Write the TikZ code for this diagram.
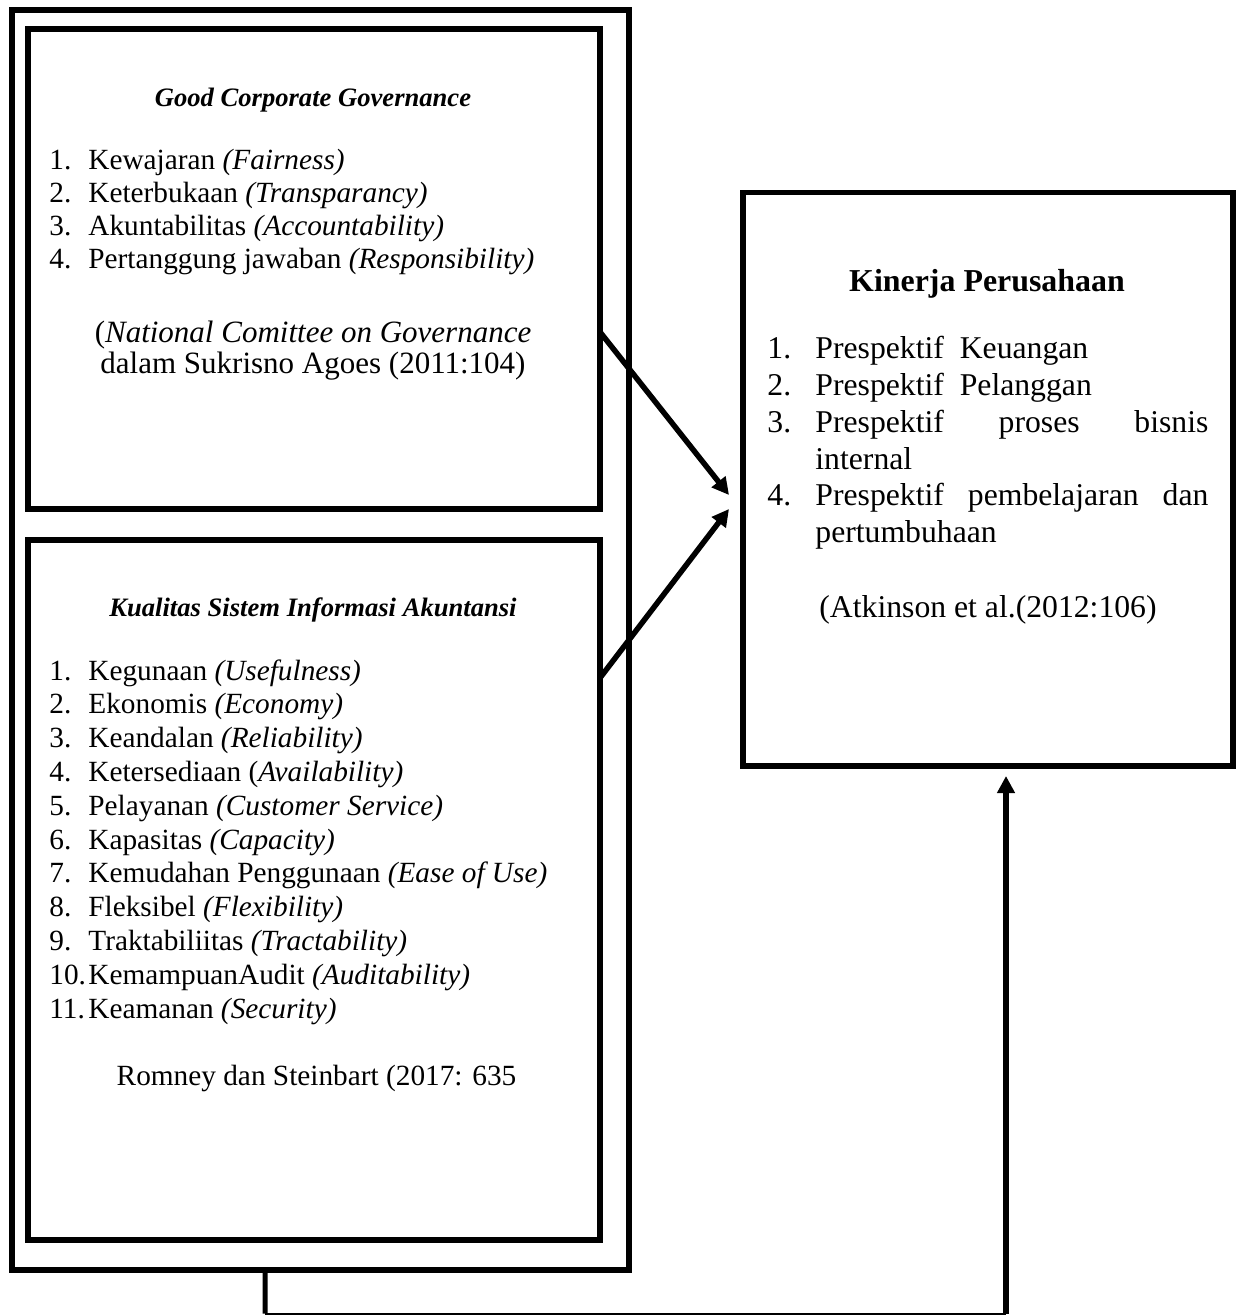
\documentclass[tikz,border=0pt]{standalone}
\usepackage{fontspec}
\setmainfont{Liberation Serif}
\usetikzlibrary{arrows.meta,calc}
\begin{document}
\begin{tikzpicture}[x=0.5pt,y=-0.5pt,
  box/.style={draw, line width=3pt, inner sep=0pt, outer sep=0pt, anchor=north west},
  ttl/.style={anchor=base, inner sep=0pt, font=\fontsize{13.3pt}{15pt}\selectfont\bfseries\itshape},
  li/.style={anchor=base west, inner sep=0pt, font=\fontsize{14.65pt}{16pt}\selectfont},
  cit/.style={anchor=base, inner sep=0pt, font=\fontsize{15.5pt}{17pt}\selectfont},
  kli/.style={anchor=base west, inner sep=0pt, font=\fontsize{15.85pt}{18pt}\selectfont},
  ktl/.style={anchor=base, inner sep=0pt, font=\fontsize{15.95pt}{18pt}\selectfont\bfseries},
  arr/.style={line width=2.75pt, -{Triangle[length=8.5pt,width=8.5pt]}}
]
\useasboundingbox (0,0) rectangle (1241,1315);

% boxes
\node[box, minimum width=308.25pt, minimum height=630pt] (outer) at (12,10) {};
\node[box, minimum width=286pt, minimum height=240pt] (gcg) at (28,29) {};
\node[box, minimum width=286pt, minimum height=350pt] (sia) at (28,540) {};
\node[box, line width=2.75pt, minimum width=245pt, minimum height=286.75pt] (kin) at (743,192.5) {};

% GCG text
\node[ttl] (gt) at (313,107) {Good Corporate Governance};
\node[li] (gn1) at (49,170) {1.};
\node[li] (g1) at (88,170) {Kewajaran \textit{(Fairness)}};
\node[li] (gn2) at (49,203) {2.};
\node[li] (g2) at (88,203) {Keterbukaan \textit{(Transparancy)}};
\node[li] (gn3) at (49,236) {3.};
\node[li] (g3) at (88,236) {Akuntabilitas \textit{(Accountability)}};
\node[li] (gn4) at (49,269) {4.};
\node[li] (g4) at (88,269) {Pertanggung jawaban \textit{(Responsibility)}};
\node[cit] (gc1) at (313,343) {(\textit{National Comittee on Governance}};
\node[cit] (gc2) at (313,374) {dalam Sukrisno Agoes (2011:104)};

% SIA text
\node[ttl] (st) at (313,616) {Kualitas Sistem Informasi Akuntansi};
\node[li] (sn1) at (49,680) {1.};
\node[li] (s1) at (88,680) {Kegunaan \textit{(Usefulness)}};
\node[li] (sn2) at (49,713.8) {2.};
\node[li] (s2) at (88,713.8) {Ekonomis \textit{(Economy)}};
\node[li] (sn3) at (49,747.6) {3.};
\node[li] (s3) at (88,747.6) {Keandalan \textit{(Reliability)}};
\node[li] (sn4) at (49,781.4) {4.};
\node[li] (s4) at (88,781.4) {Ketersediaan (\textit{Availability)}};
\node[li] (sn5) at (49,815.2) {5.};
\node[li] (s5) at (88,815.2) {Pelayanan \textit{(Customer Service)}};
\node[li] (sn6) at (49,849) {6.};
\node[li] (s6) at (88,849) {Kapasitas \textit{(Capacity)}};
\node[li] (sn7) at (49,882.8) {7.};
\node[li] (s7) at (88,882.8) {Kemudahan Penggunaan \textit{(Ease of Use)}};
\node[li] (sn8) at (49,916.6) {8.};
\node[li] (s8) at (88,916.6) {Fleksibel \textit{(Flexibility)}};
\node[li] (sn9) at (49,950.4) {9.};
\node[li] (s9) at (88,950.4) {Traktabiliitas \textit{(Tractability)}};
\node[li] (sn10) at (49,984.2) {10.};
\node[li] (s10) at (88,984.2) {KemampuanAudit \textit{(Auditability)}};
\node[li] (sn11) at (49,1018) {11.};
\node[li] (s11) at (88,1018) {Keamanan \textit{(Security)}};
\node[li, anchor=base] (sr) at (316.5,1085) {Romney dan Steinbart (2017: 635};

% Kinerja text
\node[ktl] (kt) at (987,292) {Kinerja Perusahaan};
\node[kli] (kn1) at (767,358.6) {1.};
\node[kli] (k1) at (815,358.6) {Prespektif\ \ Keuangan};
\node[kli] (kn2) at (767,395.4) {2.};
\node[kli] (k2) at (815,395.4) {Prespektif\ \ Pelanggan};
\node[kli] (kn3) at (767,432.2) {3.};
\node[kli] (k3) at (815,432.2) {\makebox[196.5pt][s]{Prespektif proses bisnis}};
\node[kli] (k3b) at (815,469) {internal};
\node[kli] (kn4) at (767,505.8) {4.};
\node[kli] (k4) at (815,505.8) {\makebox[196.5pt][s]{Prespektif pembelajaran dan}};
\node[kli] (k4b) at (815,542.6) {pertumbuhaan};
\node[kli] (kc) at (819,617) {(Atkinson et al.(2012:106)};

% connectors
\coordinate (s1) at ($(gcg.north east)!0.63125!(gcg.south east)$);
\coordinate (s2) at ($(sia.north east)!0.197!(sia.south east)$);
\coordinate (t1) at (729,495);
\coordinate (t2) at (729,509);
\draw[arr] (s1) -- (t1);
\draw[arr] (s2) -- (t2);

\coordinate (b0) at ($(outer.south west)!0.4104!(outer.south east)$);
\coordinate (b1) at (265,1313.5);
\coordinate (b2) at (1006,1313.5);
\draw[line width=2.5pt] (b0) -- (b1);
\draw[line width=1pt] (b1) -- (b2);
\draw[line width=3pt, -{Triangle[length=8.5pt,width=8.5pt]}, shorten >=5pt] (b2) -- (kin.south -| b2);
\end{tikzpicture}
\end{document}
